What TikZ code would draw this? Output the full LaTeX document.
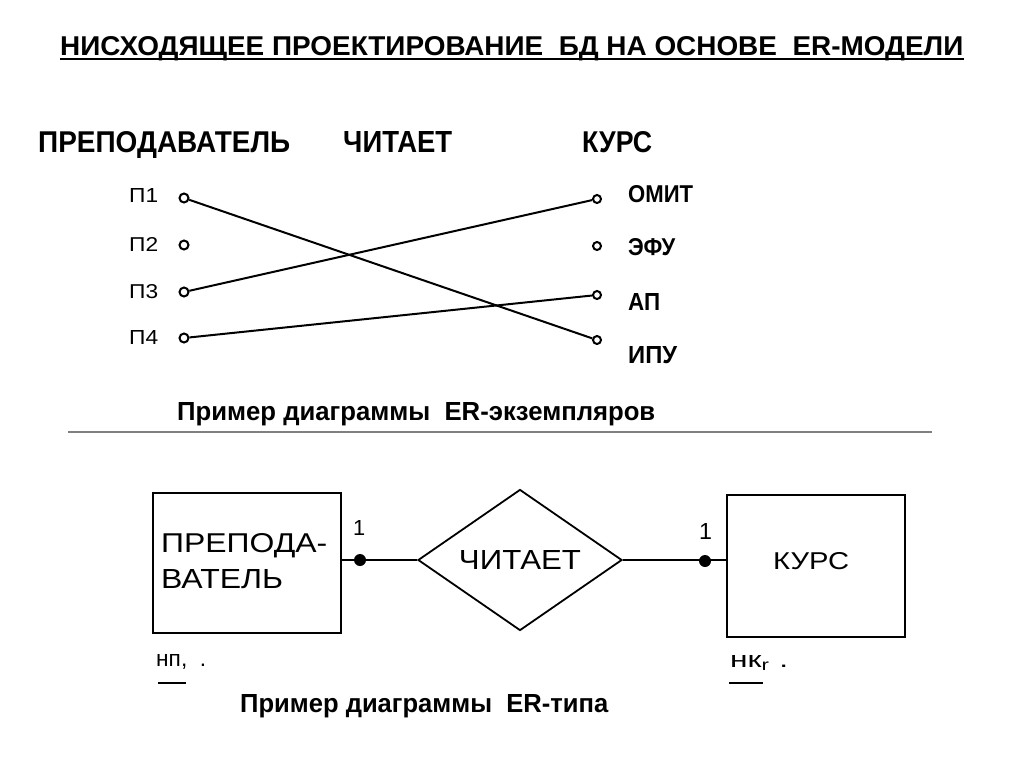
\documentclass[tikz,border=0pt]{standalone}
\usepackage{fontspec}
\setmainfont{Liberation Sans}
\usepackage{graphicx}
\usetikzlibrary{positioning}
\usetikzlibrary{shapes.geometric}
\newcommand{\fitbox}[3]{\resizebox{#1}{#2}{#3}}
\begin{document}
\begin{tikzpicture}[x=1pt,y=-1pt]
		  \tikzset{
			txt/.style={inner sep=0pt,anchor=base west},
			ring/.style={circle,draw,line width=2pt,inner sep=0pt,minimum size=9pt},
			link/.style={line width=2pt},
			entity/.style={draw,line width=2.6pt,inner sep=0pt},
			joint/.style={circle,fill,inner sep=0pt,minimum size=12pt},
		  }
		  \fill[white] (0,0) rectangle (1024,768);
		  \useasboundingbox (0,0) rectangle (1024,768);
		  %TITLE
		  \node[txt] (title) at (60,56) {\fitbox{903pt}{19pt}{\bfseries НИСХОДЯЩЕЕ ПРОЕКТИРОВАНИЕ~~БД НА ОСНОВЕ~~ER-МОДЕЛИ}};
		  \draw[line width=2.6pt] ([yshift=-3pt]title.base west) -- ([yshift=-3pt]title.base east);
		  %HEADER
		  \node[txt] (hteach) at (38,152) {\fitbox{252pt}{21pt}{\bfseries ПРЕПОДАВАТЕЛЬ}};
		  \node[txt] (hread) at (343,152) {\fitbox{109pt}{21pt}{\bfseries ЧИТАЕТ}};
		  \node[txt] (hcourse) at (582,152) {\fitbox{70pt}{21pt}{\bfseries КУРС}};
		  %TEACHERS
		  \foreach \i/\y/\b in {1/198/202,2/245/251,3/292/298,4/338/344}{
			\node[txt] (lp\i) at (129,\b) {\fitbox{29pt}{14pt}{П\i}};
			\node[ring] (p\i) at (184,\y) {};
		  }
		  %COURSES
		  \foreach \i/\y/\b/\name/\w in {1/199/202/ОМИТ/65pt,2/246/255/ЭФУ/47pt,3/295/310/АП/32pt,4/340/363/ИПУ/49pt}{
			\node[ring,minimum size=8pt] (c\i) at (597,\y) {};
			\node[txt] (lc\i) at (628,\b) {\fitbox{\w}{17pt}{\bfseries \name}};
		  }
		  %LINKS
		  \draw[link] (p1) -- (c4);
		  \draw[link] (p3) -- (c1);
		  \draw[link] (p4) -- (c3);
		  %CAPTION 1
		  \node[txt] (cap1) at (177,420) {\fitbox{478pt}{18pt}{\bfseries Пример диаграммы~~ER-экземпляров}};
		  \draw[gray,line width=1.6pt] (68,432) -- (932,432);
		  %ENTITY TEACHER
		  \node[entity,minimum width=188pt,minimum height=140pt] (teacher) at (247,563) {};
		  \node[txt] (tline1) at (161,552) {\fitbox{166pt}{19pt}{ПРЕПОДА-}};
		  \node[txt] (tline2) at (161,588) {\fitbox{122pt}{19pt}{ВАТЕЛЬ}};
		  \node[txt] (tkey) at (156,666) {\fitbox{50pt}{12pt}{нп,~~.}};
		  \draw[line width=2pt] (158,683) -- (186,683);
		  %RELATION
		  \node[diamond,draw,line width=1.8pt,inner sep=0pt,minimum width=204pt,minimum height=136pt] (rel) at (520,560) {\fitbox{122pt}{19pt}{ЧИТАЕТ}};
		  %ENTITY COURSE
		  \node[entity,minimum width=178pt,minimum height=142pt] (course) at (816,566) {};
		  \node[txt] (ctext) at (773,569) {\fitbox{76pt}{17pt}{КУРС}};
		  \node[txt] (ckey) at (730,667) {\fitbox{58pt}{12pt}{нк\textsubscript{r}~.}};
		  \draw[line width=2pt] (729,683) -- (763,683);
		  %CONNECTORS
		  \draw[link] (rel.west) -- (rel.west -| teacher.east);
		  \draw[link] (rel.east) -- (rel.east -| course.west);
		  \node[joint] (d1) at (360,560) {};
		  \node[joint] (d2) at (705,561) {};
		  \node[txt] (n1) at (353,535) {\fitbox{!}{15pt}{1}};
		  \node[txt] (n2) at (699,539) {\fitbox{!}{16pt}{1}};
		  %CAPTION 2
		  \node[txt] (cap2) at (240,712) {\fitbox{368pt}{18pt}{\bfseries Пример диаграммы~~ER-типа}};
\end{tikzpicture}
\end{document}
